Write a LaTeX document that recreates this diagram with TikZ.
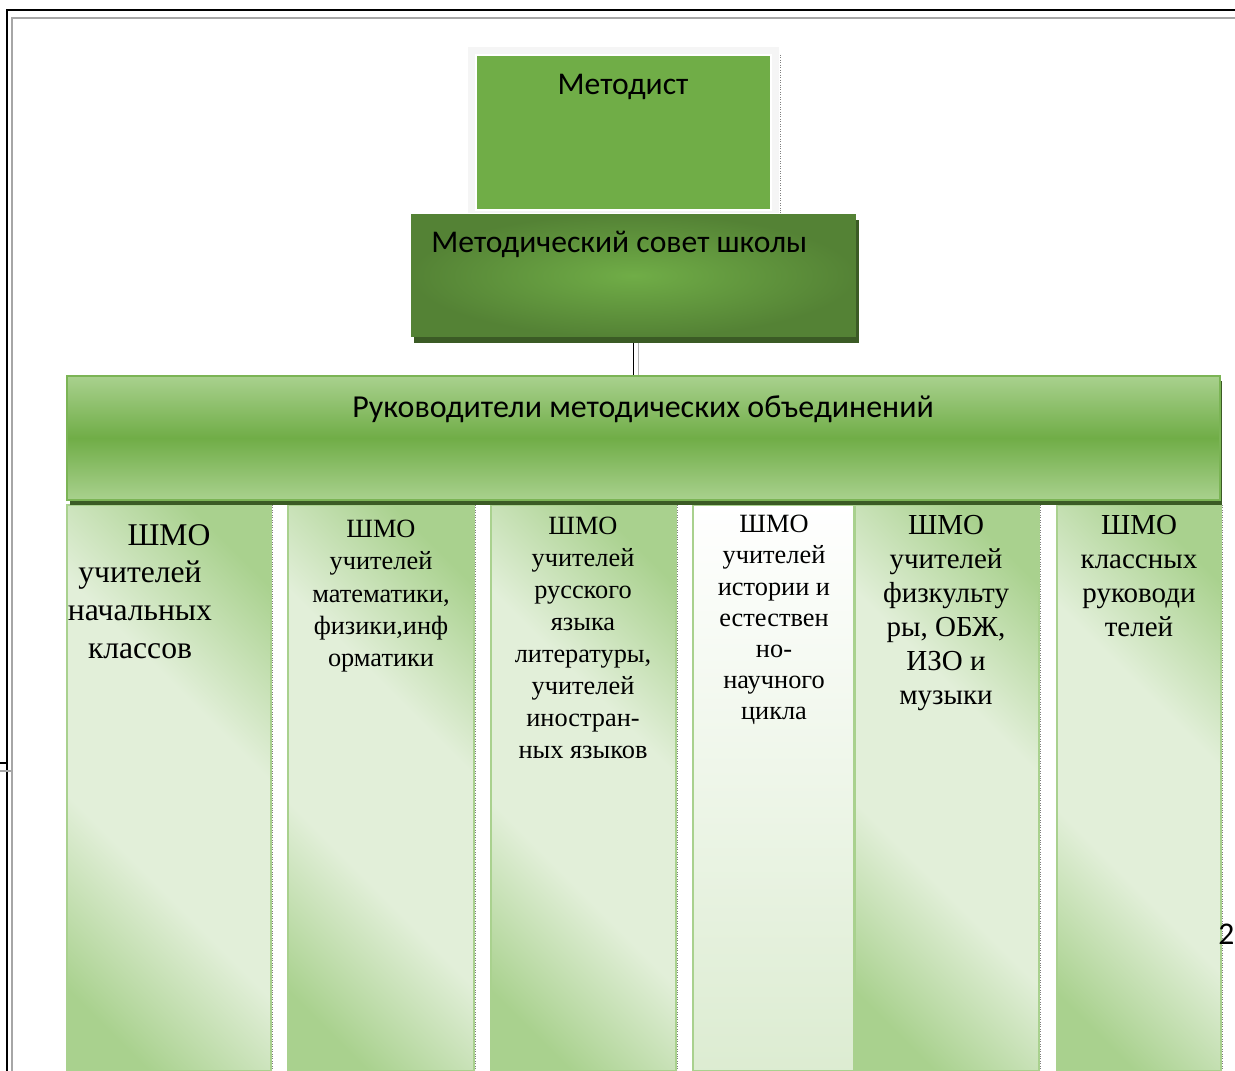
\documentclass[tikz,border=0pt]{standalone}
\usepackage{fontspec}
\setmainfont{Liberation Serif}
\newfontfamily\calibri{Carlito}
\usetikzlibrary{shadows}
\definecolor{mgreen}{HTML}{70AD47}
\definecolor{dgreen}{HTML}{548235}
\definecolor{sgreen}{HTML}{3B5B25}
\definecolor{lgreen}{HTML}{A9D18E}
\definecolor{pgreen}{HTML}{E2EFD9}
\pgfdeclareverticalshading{colshade}{100bp}{color(0bp)=(lgreen); color(22bp)=(lgreen); color(40bp)=(pgreen); color(60bp)=(pgreen); color(78bp)=(lgreen); color(100bp)=(lgreen)}

\begin{document}
\begin{tikzpicture}[x=0.02cm,y=-0.02cm,
  boxtext/.style={font=\calibri\fontsize{18}{21.6}\selectfont, inner sep=0pt},
  coltext/.style={align=center, anchor=north, inner sep=0pt},
  colfill/.style={draw=lgreen, line width=1pt, shading=colshade, shading angle=-45},
  sovetbox/.style={minimum width=8.9cm, minimum height=2.46cm, inner sep=0pt, inner color=mgreen, outer color=dgreen,
    general shadow={fill=sgreen, shadow xshift=0.06cm, shadow yshift=-0.12cm}},
  rukbox/.style={minimum width=23.06cm, minimum height=2.48cm, inner sep=0pt, draw=mgreen!80!lgreen, line width=1.2pt,
    top color=lgreen, bottom color=lgreen, middle color=mgreen,
    general shadow={fill=sgreen, shadow xshift=0.05cm, shadow yshift=-0.1cm}}]
\useasboundingbox (0,0) rectangle (1235,1071);
% page frame
\draw[line width=1.1pt] (7,1071) -- (7,10) -- (1235,10);
\draw[gray!70, line width=1.1pt] (12,1071) -- (12,18) -- (1235,18);
\draw[line width=0.8pt] (0,763) -- (7,763);
\draw[gray!70, line width=0.8pt] (0,771) -- (12,771);
% columns
\foreach \xa/\xb in {67/271,288/474,491/676,855/1039,1057/1221} {
  \shade[colfill] (\xa,505) rectangle (\xb,1071);
  \draw[gray, densely dotted] (\xb+1.5,505) -- (\xb+1.5,1071);
}
\shade[draw=lgreen, line width=1pt, top color=white, bottom color=pgreen!90!lgreen] (693,505) rectangle (854,1071);
% top boxes
\fill[gray!8] (468,47) rectangle (779,213);
\draw[gray, densely dotted] (780,55) -- (780,213);
\node[draw=white, line width=1.2pt, fill=mgreen, minimum width=5.9cm, minimum height=3.1cm] (metodist) at (623.5,132.5) {};
\node[sovetbox] (sovet) at (633.5,275.5) {};
\node[rukbox] (ruk) at (643.5,438) {};
\draw[line width=1pt] (sovet.south) ++(0,6) -- (sovet.south |- ruk.north);
\draw[gray!60, line width=1pt] ([xshift=0.1cm]sovet.south) ++(0,6) -- ([xshift=0.1cm]sovet.south |- ruk.north);
\node[boxtext, anchor=base] (metodistT) at (623,95) {Методист};
\node[boxtext, anchor=base west] (sovetT) at (431,253) {Методический совет школы};
\node[boxtext, anchor=base, font=\calibri\fontsize{18.2}{21.6}\selectfont] (rukT) at (643,418) {Руководители методических объединений};
% column texts
\node[coltext, font=\fontsize{18}{21.4}\selectfont] (c1) at (140,524) {\hspace*{1.16cm}ШМО\\учителей\\начальных\\классов};
\node[coltext, font=\fontsize{15}{18.3}\selectfont] (c2) at (381,520) {ШМО\\учителей\\математики,\\физики,инф\\орматики};
\node[coltext, font=\fontsize{15}{18.2}\selectfont] (c3) at (583,517) {ШМО\\учителей\\русского\\языка\\литературы,\\учителей\\иностран-\\ных языков};
\node[coltext, font=\fontsize{15}{17.7}\selectfont] (c4) at (774,515) {ШМО\\учителей\\истории и\\естествен\\но-\\научного\\цикла};
\node[coltext, font=\fontsize{16.5}{19.3}\selectfont] (c5) at (946,515) {ШМО\\учителей\\физкульту\\ры, ОБЖ,\\ИЗО и\\музыки};
\node[coltext, font=\fontsize{16.5}{19.3}\selectfont] (c6) at (1139,515) {ШМО\\классных\\руководи\\телей};
\node[boxtext, anchor=base west] (pnum) at (1218,944) {2};
\end{tikzpicture}
\end{document}
